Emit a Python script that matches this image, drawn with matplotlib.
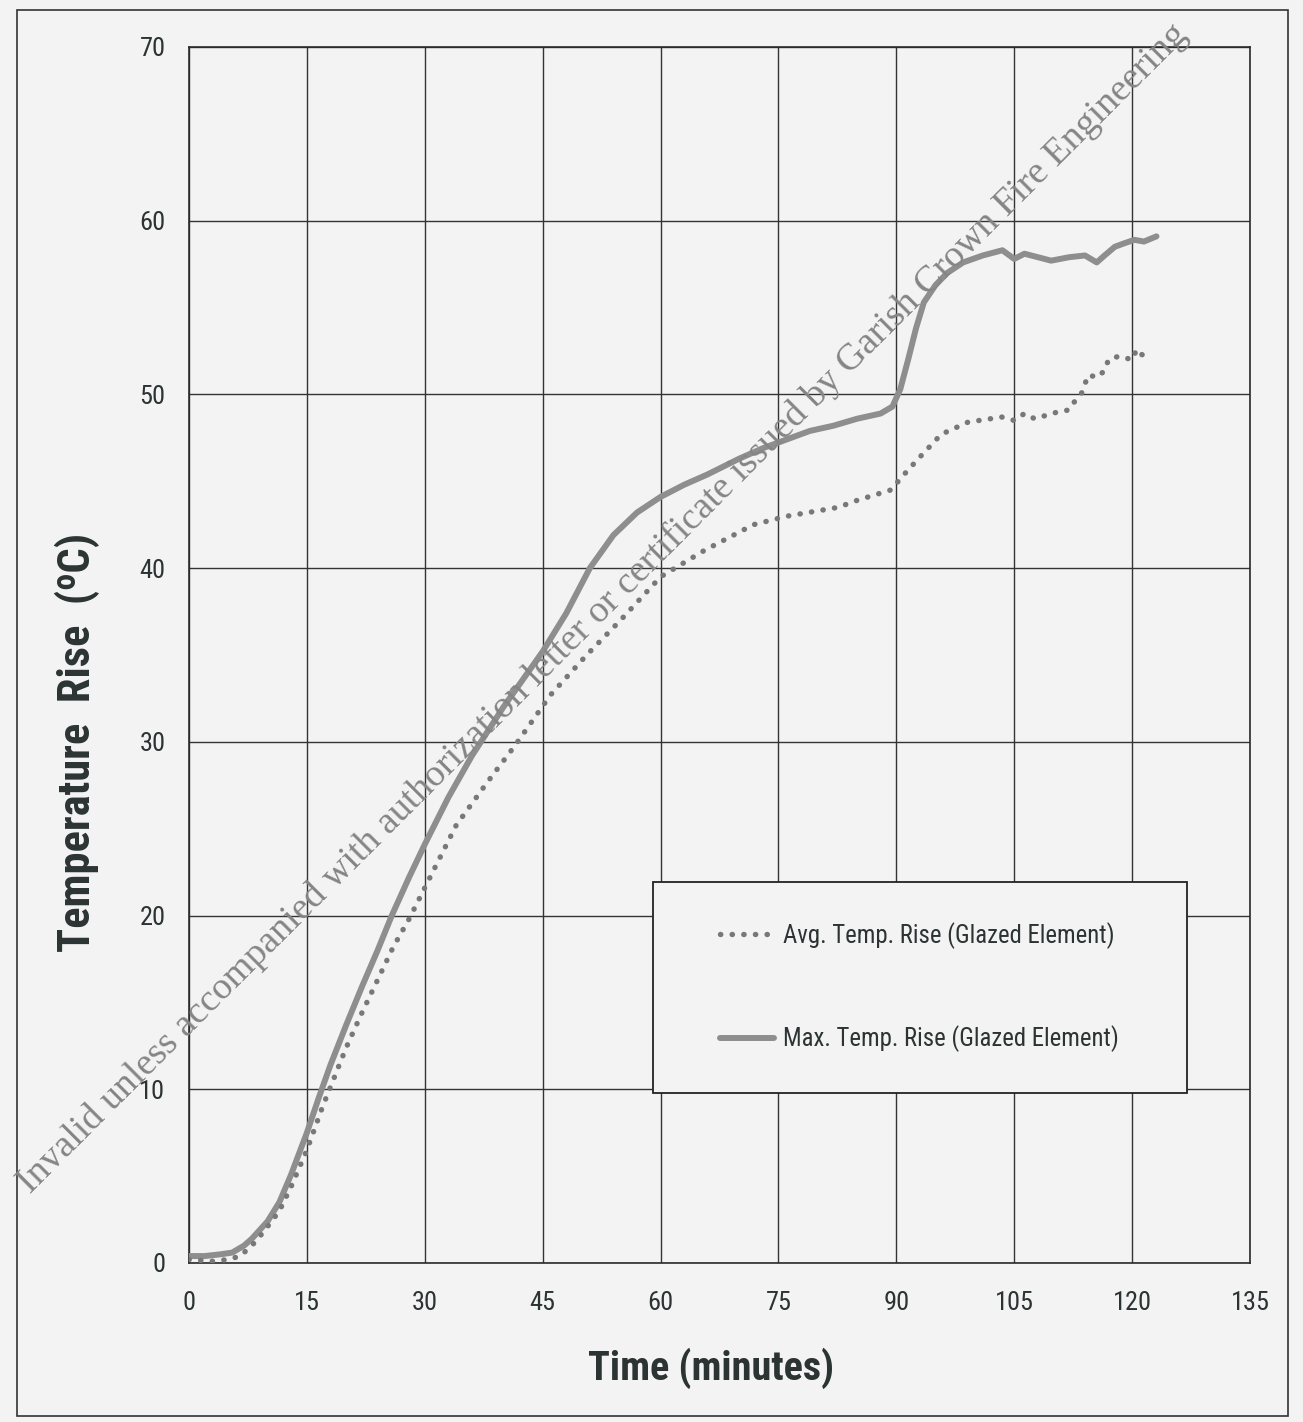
import matplotlib
matplotlib.use("Agg")
import matplotlib.pyplot as plt
from matplotlib import font_manager
from matplotlib.patches import Rectangle

# --- data ---
max_t = [0, 2, 4, 5.5, 7, 8, 9, 10, 11.5, 13, 15, 16.5, 18, 20, 22, 24, 25.8, 28, 30, 33,
         36, 40, 43.6, 45, 48, 51, 54, 57, 60, 63, 66, 70, 73, 76, 79, 82, 85, 88, 89.5,
         90.5, 91.5, 92.5, 93.5, 95, 96.5, 98.5, 101, 103.5, 105, 106.3, 108, 109.7, 112,
         114, 115.5, 116.5, 117.8, 119, 120.3, 121.5, 123.1]
max_rise = [0.4, 0.4, 0.5, 0.6, 1.0, 1.4, 1.9, 2.4, 3.5, 5.1, 7.5, 9.5, 11.4, 13.7, 15.9,
            18.0, 20.0, 22.2, 24.1, 26.8, 29.2, 32.0, 34.3, 35.2, 37.4, 40.0, 41.9, 43.2,
            44.1, 44.8, 45.4, 46.3, 46.9, 47.4, 47.9, 48.2, 48.6, 48.9, 49.3, 50.3, 52.0,
            53.8, 55.3, 56.3, 57.0, 57.6, 58.0, 58.3, 57.8, 58.1, 57.9, 57.7, 57.9, 58.0,
            57.6, 58.0, 58.5, 58.7, 58.9, 58.8, 59.1]

avg_t = [0, 3, 5, 6.5, 8, 9.5, 11.5, 13, 15, 17, 20, 22, 24, 26, 28, 30, 34, 38, 41.5, 46,
         50.6, 54.9, 60, 65.5, 71.8, 76.2, 82.6, 85, 89.3, 91, 92.8, 95.7, 99.1, 103.4, 105,
         106.3, 107.6, 110.6, 111.9, 112.7, 113.6, 114.4, 115.7, 116.5, 117, 118.3, 120,
         120.6, 121.2, 122.3]
avg_rise = [0.2, 0.1, 0.2, 0.4, 1.0, 1.8, 3.0, 4.4, 6.5, 9.0, 12.4, 14.4, 16.3, 18.2, 19.8,
            21.6, 25.2, 27.7, 29.8, 32.7, 35.0, 37.0, 39.5, 41.0, 42.5, 43.0, 43.5, 43.9,
            44.5, 45.4, 46.3, 47.7, 48.4, 48.7, 48.5, 48.9, 48.6, 49.0, 49.1, 49.6, 50.1,
            51.1, 51.0, 51.4, 52.0, 52.2, 52.0, 52.6, 52.3, 52.1]

x_ticks = [0, 15, 30, 45, 60, 75, 90, 105, 120, 135]
y_ticks = [0, 10, 20, 30, 40, 50, 60, 70]

avg_label = "Avg. Temp. Rise (Glazed Element)"
max_label = "Max. Temp. Rise (Glazed Element)"
watermark = ("Invalid unless accompanied with authorization letter or certificate "
             "issued by Garish Crown Fire Engineering")

# narrow font like the print, if there is one
names = set(f.name for f in font_manager.fontManager.ttflist)
narrow = None
for n in ["Liberation Sans Narrow", "Roboto Condensed", "DejaVu Sans Condensed"]:
    if n in names:
        narrow = n
        break
sans = [narrow, "Liberation Sans", "DejaVu Sans"] if narrow else ["Liberation Sans", "DejaVu Sans"]
plt.rcParams["font.family"] = sans

ink = "#2b3333"
paper = "#f3f3f3"
W, H = 1303, 1422

fig = plt.figure(figsize=(W / 100, H / 100), dpi=100, facecolor=paper)
ax = fig.add_axes([189 / W, 1 - 1263 / H, (1250 - 189) / W, (1263 - 47) / H])
ax.set_facecolor(paper)

ax.plot(max_t, max_rise, color="#8e8e8e", lw=4.3, solid_capstyle="round",
        solid_joinstyle="round", label=max_label, zorder=3)
ax.plot(avg_t, avg_rise, color="#787878", lw=3.9, linestyle=(0, (0.05, 2.1)),
        dash_capstyle="round", label=avg_label, zorder=3)

ax.set_xlim(0, 135)
ax.set_ylim(0, 70)
ax.set_xticks(x_ticks)
ax.set_yticks(y_ticks)
ax.tick_params(length=0, labelsize=19, labelcolor=ink)
ax.tick_params(axis="x", pad=20)
ax.tick_params(axis="y", pad=17)
ax.grid(True, color="#333333", lw=1.0)
ax.set_axisbelow(True)
for s in ax.spines.values():
    s.set_color("#2a2a2a")
    s.set_linewidth(1.2)

# legend: framed box with two entries
box = Rectangle((653 / W, 1 - 1093 / H), (1187 - 653) / W, (1093 - 882) / H,
                transform=fig.transFigure, facecolor=paper, edgecolor="#222222",
                lw=1.3, zorder=4)
fig.add_artist(box)
h, l = ax.get_legend_handles_labels()
leg = fig.legend(h[::-1], l[::-1], loc="center", bbox_to_anchor=(919 / W, 1 - 987 / H),
                 frameon=False, fontsize=17.8, labelspacing=3.1, handlelength=2.2,
                 handletextpad=0.35, borderpad=0)
leg.set_zorder(5)
for t in leg.get_texts():
    t.set_color(ink)

fig.text(711 / W, 1 - 1368 / H, "Time (minutes)", ha="center", va="center",
         fontsize=29, fontweight="bold", color=ink)
fig.text(77 / W, 1 - 742 / H, "Temperature  Rise  (\u1d52C)", ha="center",
         va="center", rotation=90, fontsize=32, fontweight="bold", color=ink,
         family=sans)

# outer frame of the printed figure
fig.add_artist(Rectangle((17 / W, 1 - 1416 / H), (1288 - 17) / W, (1416 - 10) / H,
                         transform=fig.transFigure, fill=False, edgecolor="#333333",
                         lw=1.2))

# scanned watermark
fig.text(30 / W, 1 - 1194 / H, watermark, rotation=45, rotation_mode="anchor",
         ha="left", va="baseline", fontsize=27.3, color="#858585",
         family=["Liberation Serif", "DejaVu Serif"], zorder=6)

fig.savefig("out.png", dpi=100, facecolor=paper)
